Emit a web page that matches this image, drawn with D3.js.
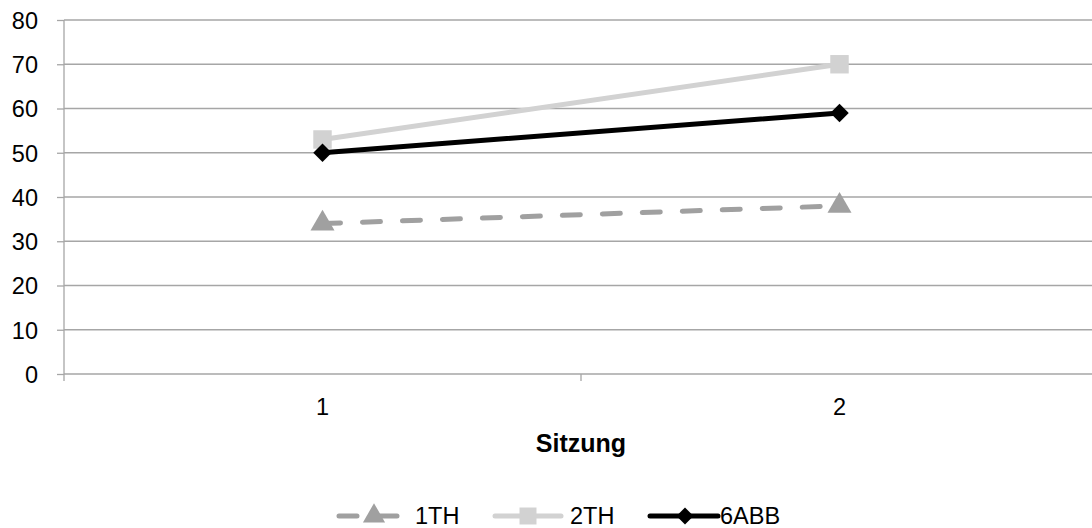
<!DOCTYPE html>
<html><head><meta charset="utf-8">
<script src="https://cdn.jsdelivr.net/npm/d3@7"></script>
<style>body{margin:0;background:#fff}svg{display:block;font-family:"Liberation Sans",Arial,sans-serif}</style>
</head><body><svg id="c" width="1092" height="528"></svg>
<script>
const categories = ["1","2"];
const yTicks = [0,10,20,30,40,50,60,70,80];
const s1TH = [34,38];
const s2TH = [53,70];
const s6ABB = [50,59];
const seriesNames = ["1TH","2TH","6ABB"];

const FONT = "Liberation Sans, Arial, sans-serif";
const svg = d3.select("#c");
const x = d3.scaleBand().domain(categories).range([64,1098]);
const y = d3.scaleLinear().domain([0,80]).range([374,20]);

// grid
svg.append("g").selectAll("line").data(yTicks).join("line")
  .attr("x1",64).attr("x2",1092).attr("y1",d=>y(d)).attr("y2",d=>y(d))
  .attr("stroke","#a6a6a6").attr("stroke-width",1.3);
// y axis
const ya = svg.append("g").attr("transform","translate(64,0)")
  .call(d3.axisLeft(y).tickValues(yTicks).tickSize(7).tickPadding(8));
ya.attr("font-size",null).attr("font-family",null);
ya.select(".domain").attr("stroke","#a6a6a6").attr("stroke-width",1.3).attr("d","M0,20V374");
ya.selectAll(".tick line").attr("stroke","#a6a6a6").attr("stroke-width",1.3);
ya.selectAll("text").style("font-size","23.5px").attr("fill","#000").style("font-family",FONT)
  .attr("x",-26).attr("dy","0.36em");
// x axis
const xa = svg.append("g").attr("transform","translate(0,374)")
  .call(d3.axisBottom(x).tickSize(0).tickPadding(0));
xa.attr("font-size",null).attr("font-family",null);
xa.select(".domain").remove();
xa.selectAll("text").style("font-size","23.5px").attr("fill","#000").style("font-family",FONT)
  .attr("y",41).attr("dy",null);
// boundary ticks
const bounds = [x.range()[0], x("2"), x.range()[1]];
svg.append("g").selectAll("line").data(bounds).join("line")
  .attr("x1",d=>d).attr("x2",d=>d).attr("y1",374).attr("y2",381)
  .attr("stroke","#a6a6a6").attr("stroke-width",1.3);

svg.append("text").attr("x",581).attr("y",452).attr("text-anchor","middle")
  .style("font-size","25px").attr("font-weight","bold").text("Sitzung");

const cx = c => x(c) + x.bandwidth()/2;
const sqDiamond = {draw(ctx,size){const r=Math.sqrt(size/2);ctx.moveTo(0,-r);ctx.lineTo(r,0);ctx.lineTo(0,r);ctx.lineTo(-r,0);ctx.closePath();}};
const series = [
  {name:"1TH", vals:s1TH, color:"#a0a0a0", dash:"18,22", sym:d3.symbolTriangle, size:250},
  {name:"2TH", vals:s2TH, color:"#d2d2d2", dash:null, sym:d3.symbolSquare, size:340},
  {name:"6ABB", vals:s6ABB, color:"#000000", dash:null, sym:sqDiamond, size:170},
];
const line = d3.line().x((d,i)=>cx(categories[i])).y(d=>y(d));
series.forEach(s=>{
  svg.append("path").attr("d",line(s.vals)).attr("fill","none").attr("stroke",s.color)
    .attr("stroke-width",5).attr("stroke-linecap","round").attr("stroke-dasharray",s.dash);
  svg.append("g").selectAll("path").data(s.vals).join("path")
    .attr("transform",(d,i)=>`translate(${cx(categories[i])},${y(d)})`)
    .attr("d",d3.symbol().type(s.sym).size(s.size)).attr("fill",s.color);
});

// legend
const leg = [
  {x1:339,x2:399,mx:374,tx:415},
  {x1:495,x2:561,mx:528,tx:570},
  {x1:650,x2:718,mx:685,tx:720},
];
series.forEach((s,i)=>{
  const L=leg[i], ly=516;
  svg.append("line").attr("x1",L.x1).attr("x2",L.x2).attr("y1",ly).attr("y2",ly)
    .attr("stroke",s.color).attr("stroke-width",5).attr("stroke-linecap","round")
    .attr("stroke-dasharray",s.dash);
  svg.append("path").attr("transform",`translate(${L.mx},${ly})`)
    .attr("d",d3.symbol().type(s.sym).size(s.size*0.85)).attr("fill",s.color);
  svg.append("text").attr("x",L.tx).attr("y",ly+8).style("font-size","23.5px").text(s.name);
});
</script></body></html>
